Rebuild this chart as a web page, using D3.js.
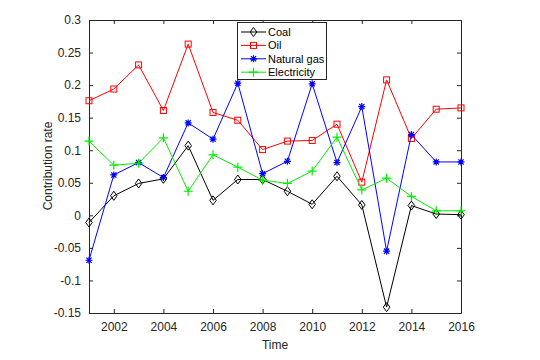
<!DOCTYPE html>
<html><head><meta charset="utf-8">
<script src="https://cdn.jsdelivr.net/npm/d3@7"></script>
<style>body{margin:0;background:#fff}svg{display:block}text{font-family:"Liberation Sans",Arial,sans-serif;}</style>
</head><body><svg id="c" width="540" height="360"></svg>
<script>
const years = [2001,2002,2003,2004,2005,2006,2007,2008,2009,2010,2011,2012,2013,2014,2015,2016];
const coal = [-0.011,0.030,0.049,0.056,0.107,0.023,0.055,0.055,0.037,0.017,0.060,0.016,-0.141,0.015,0.002,0.001];
const oil = [0.176,0.194,0.231,0.161,0.263,0.158,0.146,0.101,0.114,0.115,0.140,0.051,0.208,0.118,0.163,0.165];
const gas = [-0.069,0.062,0.081,0.058,0.142,0.117,0.203,0.064,0.083,0.202,0.081,0.167,-0.055,0.124,0.082,0.082];
const elec = [0.114,0.077,0.080,0.119,0.037,0.093,0.074,0.054,0.049,0.068,0.120,0.039,0.057,0.029,0.007,0.007];
const seriesNames = ["Coal","Oil","Natural gas","Electricity"];
const xTicks = [2002,2004,2006,2008,2010,2012,2014,2016];
const yTicks = [-0.15,-0.1,-0.05,0,0.05,0.1,0.15,0.2,0.25,0.3];

const series = [
  {name:seriesNames[0], vals:coal, color:"#000000", marker:"diamond"},
  {name:seriesNames[1], vals:oil, color:"#ff0000", marker:"square"},
  {name:seriesNames[2], vals:gas, color:"#0000ff", marker:"star"},
  {name:seriesNames[3], vals:elec, color:"#00ee00", marker:"plus"}
];

const L=89,R=461,T=20,B=313;
const svg=d3.select("#c");
const x=d3.scaleLinear().domain([2001,2016]).range([L,R]);
const y=d3.scaleLinear().domain([-0.15,0.3]).range([B,T]);

const axCol="#262626";
function fmt(v){ if(Math.abs(v)<1e-9) return "0"; return String(+v.toFixed(2)); }

// axes
const gB=svg.append("g").attr("transform",`translate(0,${B})`).call(d3.axisBottom(x).tickValues(xTicks).tickFormat(d3.format("d")).tickSizeInner(-4).tickSizeOuter(0).tickPadding(9));
const gT=svg.append("g").attr("transform",`translate(0,${T})`).call(d3.axisTop(x).tickValues(xTicks).tickFormat("").tickSizeInner(-4).tickSizeOuter(0));
const gL=svg.append("g").attr("transform",`translate(${L},0)`).call(d3.axisLeft(y).tickValues(yTicks).tickFormat(fmt).tickSizeInner(-4).tickSizeOuter(0).tickPadding(8));
const gR=svg.append("g").attr("transform",`translate(${R},0)`).call(d3.axisRight(y).tickValues(yTicks).tickFormat("").tickSizeInner(-4).tickSizeOuter(0));
[gB,gT,gL,gR].forEach(g=>{g.selectAll("path,line").attr("stroke",axCol).attr("stroke-width",1);g.selectAll("text").attr("fill",axCol).style("font-size","12px").style("font-family","'Liberation Sans',Arial,sans-serif");});

const sym={
  diamond: (g,c)=>g.append("path").attr("d","M0,-4.5L3.3,0L0,4.5L-3.3,0Z").attr("fill","none").attr("stroke",c),
  square: (g,c)=>g.append("rect").attr("x",-3).attr("y",-3).attr("width",6).attr("height",6).attr("fill","none").attr("stroke",c),
  star: (g,c)=>g.append("path").attr("d","M-3.5,0H3.5M0,-3.5V3.5M-2.6,-2.6L2.6,2.6M-2.6,2.6L2.6,-2.6").attr("stroke",c).attr("stroke-width",1.2),
  plus: (g,c)=>g.append("path").attr("d","M-4.5,0H4.5M0,-4.5V4.5").attr("stroke",c).attr("stroke-width",1.2)
};

const line=d3.line().x((d,i)=>x(years[i])).y(d=>y(d));
series.forEach(s=>{
  svg.append("path").attr("d",line(s.vals)).attr("fill","none").attr("stroke",s.color).attr("stroke-width",1);
  s.vals.forEach((v,i)=>{
    const g=svg.append("g").attr("transform",`translate(${x(years[i])},${y(v)})`);
    sym[s.marker](g,s.color);
  });
});

// legend
const lg=svg.append("g");
lg.append("rect").attr("x",237.5).attr("y",22.5).attr("width",89).attr("height",57).attr("fill","#fff").attr("stroke",axCol);
series.forEach((s,i)=>{
  const yy=32+i*13.4;
  lg.append("line").attr("x1",241).attr("x2",266).attr("y1",yy).attr("y2",yy).attr("stroke",s.color);
  const g=lg.append("g").attr("transform",`translate(253.5,${yy})`);
  sym[s.marker](g,s.color);
  lg.append("text").attr("x",268).attr("y",yy+4).text(s.name).style("font-size","11px").attr("fill","#000");
});

svg.append("text").attr("x",275).attr("y",349).attr("text-anchor","middle").text("Time").style("font-size","12px").attr("fill",axCol);
svg.append("text").attr("transform","translate(52,166) rotate(-90)").attr("text-anchor","middle").text("Contribution rate").style("font-size","12px").attr("fill",axCol);
</script></body></html>
